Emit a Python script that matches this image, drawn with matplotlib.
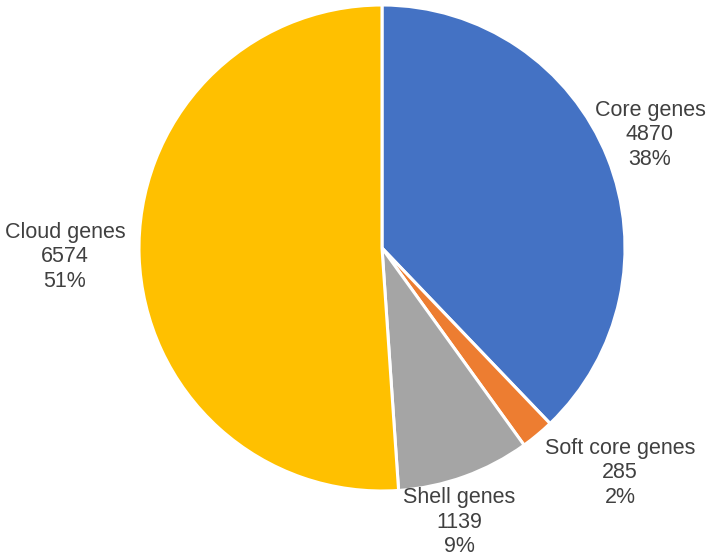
import matplotlib.pyplot as plt

# Gene categories and counts
categories = ['Core genes', 'Soft core genes', 'Shell genes', 'Cloud genes']
counts = [4870, 285, 1139, 6574]
colors = ['#4472C4', '#ED7D31', '#A5A5A5', '#FFC000']

# label centres in pixel space (x, y from top)
label_pos = [(650, 135), (620, 473), (459, 522), (65, 257)]

W, H = 709, 560
fig = plt.figure(figsize=(W / 100, H / 100), dpi=100)
ax = fig.add_axes([0, 0, 1, 1])

ax.pie(counts, colors=colors, startangle=90, counterclock=False,
       center=(382, H - 248), radius=243, frame=True,
       wedgeprops=dict(edgecolor='white', linewidth=2.2))
ax.set_xlim(0, W)
ax.set_ylim(0, H)
ax.axis('off')

total = sum(counts)
for name, n, (x, y) in zip(categories, counts, label_pos):
    pct = round(100 * n / total)
    ax.text(x, H - y, f'{name}\n{n}\n{pct}%', ha='center', va='center',
            fontsize=15.5, color='#404040', family='Liberation Sans',
            linespacing=1.22)

fig.savefig('out.png', dpi=100)
